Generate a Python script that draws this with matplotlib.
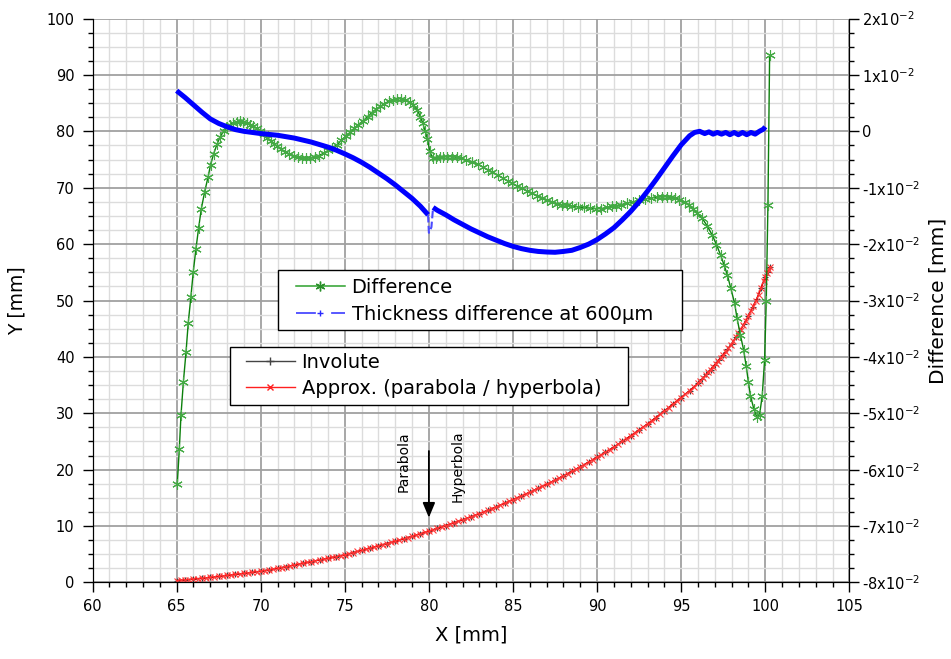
import matplotlib
matplotlib.use('Agg')
import matplotlib.pyplot as plt
from matplotlib.lines import Line2D
from matplotlib.patches import Rectangle
from matplotlib.ticker import MultipleLocator, FixedLocator, FixedFormatter

# involute (left axis, Y in mm)
inv_x = [65.0, 65.5, 66.0, 66.5, 67.0, 67.5, 68.0, 68.5, 69.0, 69.5,
         70.0, 70.5, 71.0, 71.5, 72.0, 72.5, 73.0, 73.5, 74.0, 74.5,
         75.0, 75.5, 76.0, 76.5, 77.0, 77.5, 78.0, 78.5, 79.0, 79.5,
         80.0, 80.5, 81.0, 81.5, 82.0, 82.5, 83.0, 83.5, 84.0, 84.5,
         85.0, 85.5, 86.0, 86.5, 87.0, 87.5, 88.0, 88.5, 89.0, 89.5,
         90.0, 90.5, 91.0, 91.5, 92.0, 92.5, 93.0, 93.5, 94.0, 94.5,
         95.0, 95.5, 96.0, 96.25, 96.5, 96.75, 97.0, 97.25, 97.5, 97.75,
         98.0, 98.25, 98.5, 98.75, 99.0, 99.25, 99.5, 99.75, 100.0, 100.15,
         100.3]
inv_y = [0.35, 0.47, 0.60, 0.75, 0.90, 1.07, 1.25, 1.42, 1.60, 1.80,
         2.00, 2.25, 2.50, 2.80, 3.10, 3.40, 3.70, 4.00, 4.30, 4.60,
         4.90, 5.30, 5.70, 6.10, 6.50, 6.90, 7.30, 7.75, 8.20, 8.65,
         9.10, 9.60, 10.10, 10.60, 11.10, 11.65, 12.20, 12.80, 13.40, 14.05,
         14.70, 15.35, 16.00, 16.70, 17.40, 18.15, 18.90, 19.70, 20.50, 21.35,
         22.20, 23.10, 24.00, 25.00, 26.00, 27.05, 28.10, 29.25, 30.40, 31.60,
         32.80, 34.00, 35.30, 36.10, 36.90, 37.75, 38.60, 39.50, 40.40, 41.35,
         42.30, 43.45, 44.60, 45.90, 47.30, 48.80, 50.30, 52.20, 54.20, 55.10,
         56.00]

# approximation (parabola / hyperbola), denser points on the same curve
approx_x = [65.00, 65.25, 65.50, 65.75, 66.00, 66.25, 66.50, 66.75, 67.00, 67.25,
            67.50, 67.75, 68.00, 68.25, 68.50, 68.75, 69.00, 69.25, 69.50, 69.75,
            70.00, 70.25, 70.50, 70.75, 71.00, 71.25, 71.50, 71.75, 72.00, 72.25,
            72.50, 72.75, 73.00, 73.25, 73.50, 73.75, 74.00, 74.25, 74.50, 74.75,
            75.00, 75.25, 75.50, 75.75, 76.00, 76.25, 76.50, 76.75, 77.00, 77.25,
            77.50, 77.75, 78.00, 78.25, 78.50, 78.75, 79.00, 79.25, 79.50, 79.75,
            80.00, 80.25, 80.50, 80.75, 81.00, 81.25, 81.50, 81.75, 82.00, 82.25,
            82.50, 82.75, 83.00, 83.25, 83.50, 83.75, 84.00, 84.25, 84.50, 84.75,
            85.00, 85.25, 85.50, 85.75, 86.00, 86.25, 86.50, 86.75, 87.00, 87.25,
            87.50, 87.75, 88.00, 88.25, 88.50, 88.75, 89.00, 89.25, 89.50, 89.75,
            90.00, 90.25, 90.50, 90.75, 91.00, 91.25, 91.50, 91.75, 92.00, 92.25,
            92.50, 92.75, 93.00, 93.25, 93.50, 93.75, 94.00, 94.25, 94.50, 94.75,
            95.00, 95.25, 95.50, 95.75, 96.00, 96.15, 96.30, 96.45, 96.60, 96.75,
            96.90, 97.05, 97.20, 97.35, 97.50, 97.65, 97.80, 97.95, 98.10, 98.25,
            98.40, 98.55, 98.70, 98.85, 99.00, 99.15, 99.30, 99.45, 99.60, 99.75,
            99.90, 100.00, 100.10, 100.20, 100.30]
approx_y = [0.35, 0.41, 0.47, 0.53, 0.60, 0.67, 0.75, 0.82, 0.90, 0.98,
            1.07, 1.16, 1.25, 1.33, 1.42, 1.51, 1.60, 1.70, 1.80, 1.90,
            2.00, 2.12, 2.25, 2.37, 2.50, 2.65, 2.80, 2.95, 3.10, 3.25,
            3.40, 3.55, 3.70, 3.85, 4.00, 4.15, 4.30, 4.45, 4.60, 4.75,
            4.90, 5.10, 5.30, 5.50, 5.70, 5.90, 6.10, 6.30, 6.50, 6.70,
            6.90, 7.10, 7.30, 7.52, 7.75, 7.97, 8.20, 8.42, 8.65, 8.87,
            9.10, 9.35, 9.60, 9.85, 10.10, 10.35, 10.60, 10.85, 11.10, 11.37,
            11.65, 11.92, 12.20, 12.50, 12.80, 13.10, 13.40, 13.72, 14.05, 14.37,
            14.70, 15.02, 15.35, 15.67, 16.00, 16.35, 16.70, 17.05, 17.40, 17.77,
            18.15, 18.52, 18.90, 19.30, 19.70, 20.10, 20.50, 20.92, 21.35, 21.77,
            22.20, 22.65, 23.10, 23.55, 24.00, 24.50, 25.00, 25.50, 26.00, 26.52,
            27.05, 27.57, 28.10, 28.67, 29.25, 29.82, 30.40, 31.00, 31.60, 32.20,
            32.80, 33.40, 34.00, 34.65, 35.30, 35.80, 36.25, 36.75, 37.25, 37.75,
            38.25, 38.80, 39.30, 39.85, 40.40, 40.95, 41.55, 42.10, 42.75, 43.45,
            44.15, 44.85, 45.65, 46.45, 47.30, 48.20, 49.10, 50.00, 51.05, 52.20,
            53.40, 54.20, 54.80, 55.40, 56.00]

# difference (right axis, mm)
diff_x = [65.04, 65.16, 65.26, 65.40, 65.56, 65.69, 65.85, 65.99, 66.15, 66.31,
          66.47, 66.67, 66.87, 67.02, 67.20, 67.40, 67.58, 67.82, 68.00, 68.17,
          68.37, 68.57, 68.77, 68.97, 69.17, 69.37, 69.57, 69.77, 69.98, 70.20,
          70.40, 70.60, 70.80, 70.97, 71.20, 71.45, 71.70, 71.95, 72.20, 72.45,
          72.70, 72.95, 73.20, 73.45, 73.74, 74.00, 74.25, 74.53, 74.80, 75.05,
          75.32, 75.55, 75.80, 76.11, 76.35, 76.60, 76.85, 77.10, 77.35, 77.60,
          77.85, 78.09, 78.35, 78.60, 78.85, 79.08, 79.30, 79.50, 79.64, 79.78,
          79.91, 80.05, 80.23, 80.45, 80.65, 80.86, 81.10, 81.39, 81.65, 81.90,
          82.20, 82.58, 82.90, 83.20, 83.50, 83.77, 84.10, 84.40, 84.70, 84.96,
          85.25, 85.55, 85.85, 86.15, 86.45, 86.75, 87.05, 87.33, 87.60, 87.90,
          88.20, 88.52, 88.85, 89.20, 89.55, 89.91, 90.25, 90.60, 90.90, 91.10,
          91.45, 91.80, 92.15, 92.49, 92.85, 93.20, 93.55, 93.87, 94.15, 94.40,
          94.66, 94.90, 95.20, 95.46, 95.70, 95.95, 96.25, 96.55, 96.85, 97.10,
          97.34, 97.55, 97.74, 97.94, 98.18, 98.32, 98.52, 98.71, 98.87, 99.00,
          99.12, 99.32, 99.50, 99.66, 99.82, 99.96, 100.06, 100.16, 100.26]
diff_y = [-0.0625, -0.0563, -0.0503, -0.0445, -0.0391, -0.0340, -0.0293, -0.0249, -0.0208, -0.0171,
          -0.0137, -0.0107, -0.0081, -0.0059, -0.0040, -0.0023, -0.0010, 0.0001, 0.0007, 0.0012,
          0.0015, 0.0017, 0.0018, 0.0017, 0.0015, 0.0012, 0.0009, 0.0005, 0.0001, -0.0005,
          -0.0011, -0.0017, -0.0022, -0.0026, -0.0031, -0.0036, -0.0040, -0.0043, -0.0045, -0.0047,
          -0.00475, -0.0047, -0.00455, -0.0043, -0.0039, -0.0034, -0.0029, -0.0024, -0.0016, -0.0009,
          -0.0002, 0.0005, 0.0012, 0.0019, 0.0026, 0.0033, 0.0039, 0.0044, 0.0049, 0.0053,
          0.0056, 0.0058, 0.0058, 0.0056, 0.0052, 0.0046, 0.0038, 0.0026, 0.0014, 0.0000,
          -0.0013, -0.0035, -0.0048, -0.0047, -0.0046, -0.0045, -0.0045, -0.0045, -0.0046, -0.0048,
          -0.0051, -0.0054, -0.0058, -0.0063, -0.0068, -0.0072, -0.0078, -0.0083, -0.0088, -0.0092,
          -0.0097, -0.0101, -0.0106, -0.0110, -0.0114, -0.0118, -0.0122, -0.0125, -0.0128, -0.0130,
          -0.0131, -0.0132, -0.0134, -0.0135, -0.0136, -0.0137, -0.0137, -0.0135, -0.0133, -0.0132,
          -0.0130, -0.0127, -0.0125, -0.0122, -0.0120, -0.0118, -0.0117, -0.0116, -0.0116, -0.0117,
          -0.0118, -0.0121, -0.0125, -0.0131, -0.0138, -0.0145, -0.0154, -0.0168, -0.0184, -0.0201,
          -0.0219, -0.0237, -0.0254, -0.0277, -0.0305, -0.0331, -0.0361, -0.0387, -0.0417, -0.0445,
          -0.0469, -0.0492, -0.0507, -0.0503, -0.0469, -0.0406, -0.0301, -0.0130, 0.0135]

# thickness difference at 600 µm (right axis, mm)
thick_x = [65.0, 65.5, 66.0, 66.5, 67.0, 67.5, 68.0, 68.5, 69.0, 69.5,
           70.0, 70.5, 71.0, 71.5, 72.0, 72.5, 73.0, 73.5, 74.0, 74.5,
           75.0, 75.5, 76.0, 76.5, 77.0, 77.5, 78.0, 78.5, 79.0, 79.5,
           79.95, 80.0, 80.15, 80.25, 80.5, 81.0, 81.5, 82.0, 82.5, 83.0,
           83.5, 84.0, 84.5, 85.0, 85.5, 86.0, 86.5, 87.0, 87.5, 88.0,
           88.5, 89.0, 89.5, 90.0, 90.5, 91.0, 91.5, 92.0, 92.5, 93.0,
           93.5, 94.0, 94.5, 95.0, 95.5, 95.8, 96.1, 96.4, 96.65, 96.9,
           97.15, 97.4, 97.65, 97.9, 98.15, 98.4, 98.65, 98.9, 99.15, 99.4,
           99.65, 99.9, 100.0]
thick_y = [0.0072, 0.0060, 0.0047, 0.0034, 0.0022, 0.0014, 0.0008, 0.0003, 0.0000, -0.0002,
           -0.0004, -0.00055, -0.0007, -0.00095, -0.0012, -0.00155, -0.0019, -0.00235, -0.0028, -0.00335,
           -0.0040, -0.0047, -0.0055, -0.0064, -0.0074, -0.0084, -0.0095, -0.0107, -0.0119, -0.0133,
           -0.0148, -0.0180, -0.0170, -0.0135, -0.0140, -0.0148, -0.0157, -0.0165, -0.0173, -0.0180,
           -0.0187, -0.0193, -0.0199, -0.0204, -0.0208, -0.0211, -0.0213, -0.0214, -0.02145, -0.0213,
           -0.0211, -0.0206, -0.0200, -0.0192, -0.0182, -0.0171, -0.0157, -0.0142, -0.0125, -0.0106,
           -0.0086, -0.0065, -0.0044, -0.0024, -0.0008, -0.0002, 0.0000, -0.0004, -0.0001, -0.0005,
           -0.0002, -0.0005, -0.0002, -0.0006, -0.0002, -0.0006, -0.0002, -0.0006, -0.0002, -0.0005,
           0.0000, 0.0004, 0.0008]

right_ticks = [-0.08, -0.07, -0.06, -0.05, -0.04, -0.03, -0.02, -0.01, 0.0, 0.01, 0.02]
right_labels = ['-8x10$^{-2}$', '-7x10$^{-2}$', '-6x10$^{-2}$', '-5x10$^{-2}$',
                '-4x10$^{-2}$', '-3x10$^{-2}$', '-2x10$^{-2}$', '-1x10$^{-2}$',
                '0', '1x10$^{-2}$', '2x10$^{-2}$']

plt.rcParams['font.family'] = ['DejaVu Sans']

fig = plt.figure(figsize=(9.51, 6.59), dpi=100)
ax = fig.add_axes([0.0973, 0.1161, 0.7958, 0.8558])
ax2 = ax.twinx()

# left axis: involute + approximation
ax.plot(inv_x, inv_y, color='#404040', lw=1.0, marker='+', ms=5, mew=0.8, zorder=3)
ax.plot(approx_x, approx_y, color='#ff0000', lw=1.0, marker='x', ms=4.5, mew=0.8,
        mec='#ff3a3a', zorder=4)

ax.set_xlim(60, 105)
ax.set_ylim(0, 100)
ax.xaxis.set_major_locator(MultipleLocator(5))
ax.xaxis.set_minor_locator(MultipleLocator(1))
ax.yaxis.set_major_locator(MultipleLocator(10))
ax.yaxis.set_minor_locator(MultipleLocator(2.5))
ax.grid(which='major', color='#a0a0a0', lw=1.3, zorder=0)
ax.grid(which='minor', color='#dcdcdc', lw=1.0, zorder=0)
ax.set_axisbelow(True)
ax.tick_params(which='major', direction='out', length=7, width=1, labelsize=10.5, pad=5)
ax.tick_params(which='minor', direction='out', length=3.5, width=1)
ax.tick_params(axis='y', pad=6)
ax.set_xlabel('X [mm]', fontsize=14, labelpad=8)
ax.set_ylabel('Y [mm]', fontsize=13.5, labelpad=14)

# right axis: difference + thickness difference
ax2.plot(diff_x, diff_y, color='#0c800c', lw=1.0, marker=(6, 2, 0), ms=7.5,
         mec='#44aa44', mew=0.8, zorder=3)
ax2.plot(thick_x[:31], thick_y[:31], color='#0000ff', lw=3.6, solid_capstyle='butt', zorder=4)
ax2.plot(thick_x[30:34], thick_y[30:34], color='#4a4aff', lw=1.5, ls='--', zorder=4)
ax2.plot(thick_x[33:], thick_y[33:], color='#0000ff', lw=3.6, solid_capstyle='butt', zorder=4)
ax2.set_ylim(-0.08, 0.02)
ax2.yaxis.set_major_locator(FixedLocator(right_ticks))
ax2.yaxis.set_major_formatter(FixedFormatter(right_labels))
ax2.yaxis.set_minor_locator(MultipleLocator(0.0025))
ax2.tick_params(which='major', direction='out', length=7, width=1, labelsize=10.5, pad=2)
ax2.tick_params(which='minor', direction='out', length=3.5, width=1)
ax2.set_ylabel('Difference [mm]', fontsize=14.5, labelpad=6)

for a in (ax, ax2):
    a.spines['top'].set_visible(False)

# parabola / hyperbola switch marker
ax.annotate('', xy=(80, 11.0), xytext=(80, 23.8),
            arrowprops=dict(arrowstyle='-|>,head_length=0.6,head_width=0.25',
                            color='black', lw=1.3, mutation_scale=15))
ax.text(78.5, 21.5, 'Parabola', rotation=90, ha='center', va='center', fontsize=10)
ax.text(81.7, 20.7, 'Hyperbola', rotation=90, ha='center', va='center', fontsize=10)


# legends: white boxes drawn by hand so the padding matches
def legend_box(x0, y0, x1, y1):
    ax2.add_patch(Rectangle((x0 / 951, 1 - y1 / 659), (x1 - x0) / 951, (y1 - y0) / 659,
                            transform=fig.transFigure, facecolor='white', edgecolor='black',
                            lw=1.0, zorder=4.5, clip_on=False))


legend_box(278, 270, 682, 330)
h_diff = Line2D([], [], color='#2ca02c', lw=1.1, marker=(6, 2, 0), ms=7, mec='#2a902a')
h_thick = Line2D([], [], color='#2a2aff', lw=1.1, ls=(0, (13, 10)), marker='+', ms=4)
leg1 = ax2.legend([h_diff, h_thick], ['Difference', 'Thickness difference at 600µm'],
                  loc='center left', bbox_to_anchor=(296 / 951, 1 - 301 / 659),
                  bbox_transform=fig.transFigure, borderaxespad=0, borderpad=0,
                  fontsize=14, numpoints=1, handlelength=2.5, handletextpad=0.36,
                  labelspacing=0.42, frameon=False)
ax2.add_artist(leg1)

legend_box(230, 347, 628, 405)
h_inv = Line2D([], [], color='#444444', lw=1.0, marker='+', ms=6)
h_app = Line2D([], [], color='#ff2020', lw=1.0, marker='x', ms=5)
leg2 = ax2.legend([h_inv, h_app], ['Involute', 'Approx. (parabola / hyperbola)'],
                  loc='center left', bbox_to_anchor=(246 / 951, 1 - 375.5 / 659),
                  bbox_transform=fig.transFigure, borderaxespad=0, borderpad=0,
                  fontsize=14, numpoints=1, handlelength=2.5, handletextpad=0.36,
                  labelspacing=0.35, frameon=False)

fig.savefig('out.png', dpi=100)
